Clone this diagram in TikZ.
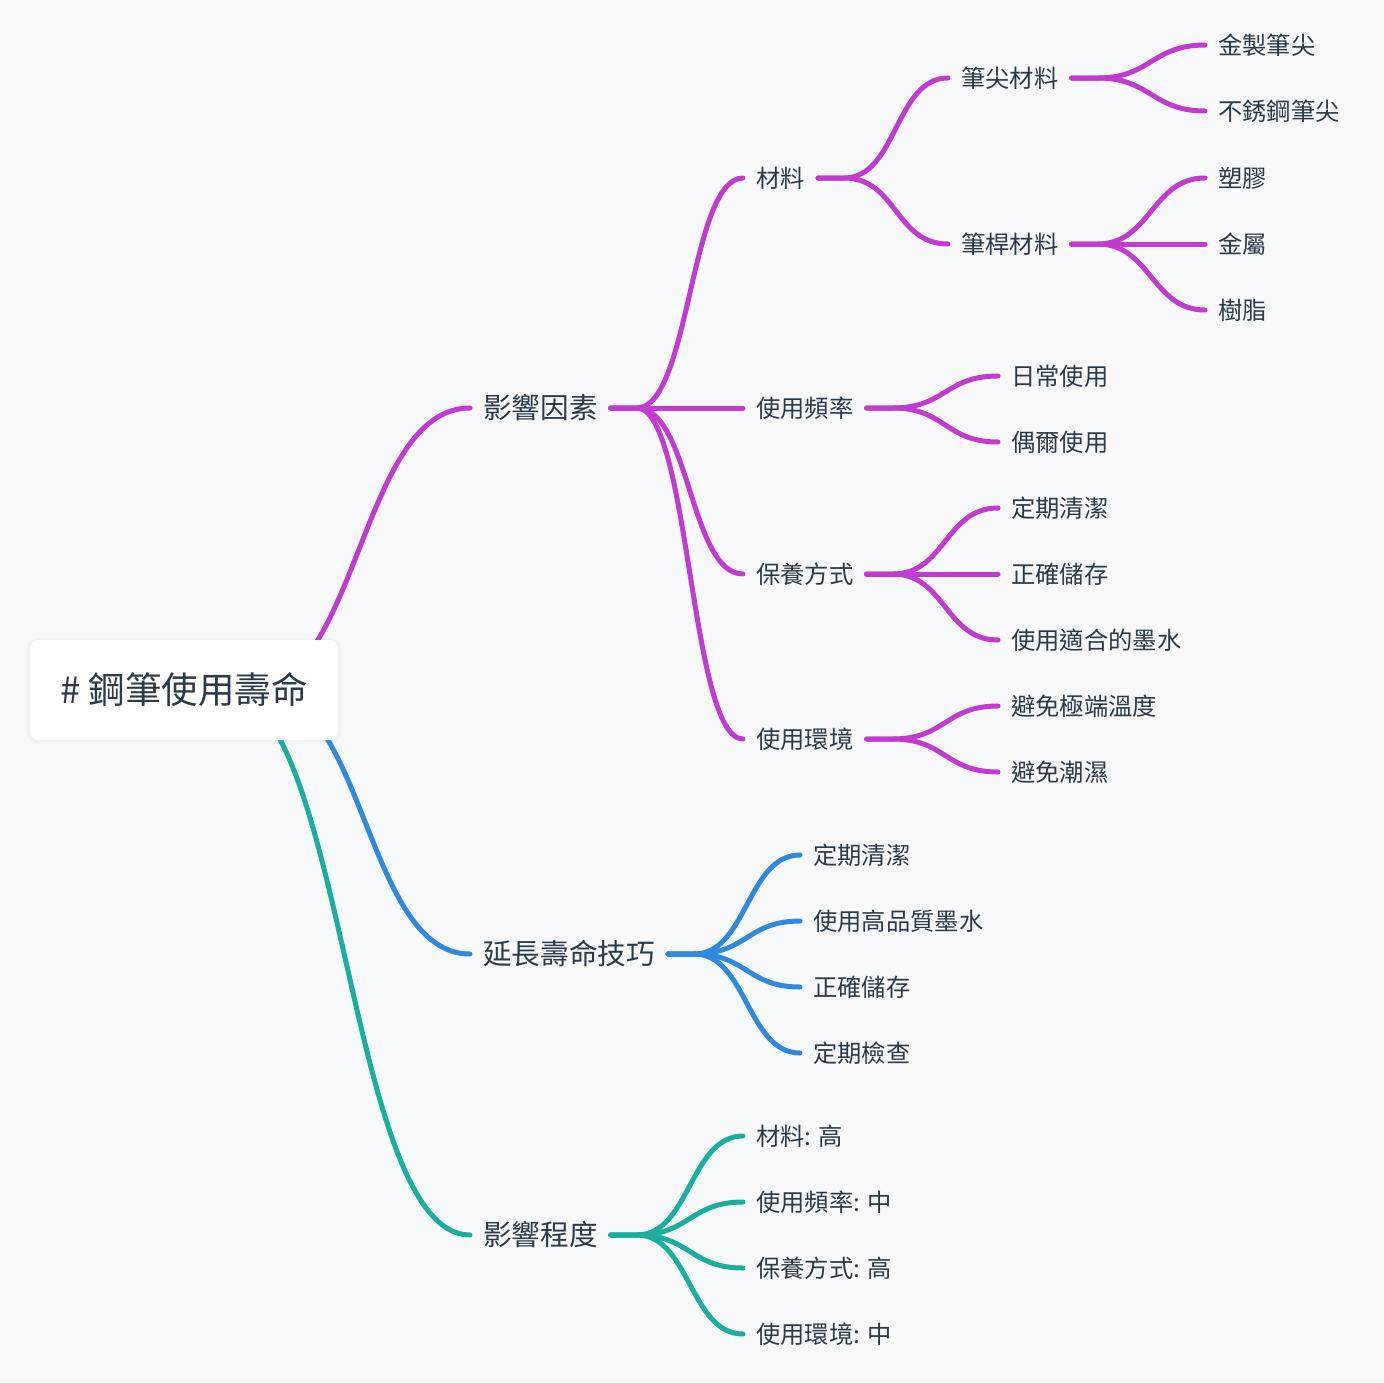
\documentclass[tikz,border=0pt]{standalone}
\usepackage{fontspec}
\setmainfont{Noto Sans CJK TC}
\usepackage{tikz}
\usetikzlibrary{calc}
\definecolor{paper}{HTML}{F7F9FB}
\definecolor{ink}{HTML}{2C3A47}
\definecolor{pur}{HTML}{C13BD1}
\definecolor{blu}{HTML}{2F89DC}
\definecolor{tea}{HTML}{1AAE9F}
\pgfdeclarelayer{back}
\pgfsetlayers{back,main}

\begin{document}
\begin{tikzpicture}[x=1pt, y=-1pt,
    lbl/.style={anchor=west, inner xsep=13pt, inner ysep=0pt, text=ink,
        font=\fontsize{24.3}{24.3}\selectfont, text height=18.4pt, text depth=0pt},
    big/.style={lbl, font=\fontsize{28.6}{28.6}\selectfont, text height=21.7pt},
    link/.style={line width=5pt, line cap=round},
    branch/.style={link, to path={-- ++(26,0) .. controls +(53,0) and +(-53,0) .. (\tikztotarget)}},
    stem/.style={link, to path={.. controls +(#1,0) and +(-#1,0) .. (\tikztotarget)}}]

    % Background and frame
    \useasboundingbox (0,0) rectangle (1384,1382);

    % Root
    \node[fill=white, rounded corners=8pt, minimum width=308pt, minimum height=100pt,
        inner sep=0pt, text=ink, font=\fontsize{36.5}{36.5}\selectfont, text height=27.7pt, text depth=0pt]
        (root) at (184,690) {\# 鋼筆使用壽命};
    \coordinate (hubp) at ($(root.east)+(-90,0)$);
    \coordinate (hubb) at ($(root.east)+(-78,0)$);
    \coordinate (hubt) at ($(root.east)+(-116,0)$);

    % Influencing factors
    \node[big] (yx) at (470,408) {影響因素};
    \node[lbl] (cl) at (743,178) {材料};
    \node[lbl] (pl) at (743,408) {使用頻率};
    \node[lbl] (by) at (743,574) {保養方式};
    \node[lbl] (hj) at (743,739) {使用環境};
    \node[lbl] (bj) at (948,78) {筆尖材料};
    \node[lbl] (bgan) at (948,244) {筆桿材料};
    \node[lbl] (jz) at (1205,45) {金製筆尖};
    \node[lbl] (bx) at (1205,111) {不銹鋼筆尖};
    \node[lbl] (sj) at (1205,178) {塑膠};
    \node[lbl] (js) at (1205,244) {金屬};
    \node[lbl] (sz) at (1205,310) {樹脂};
    \node[lbl] (rc) at (998,376) {日常使用};
    \node[lbl] (oe) at (998,442) {偶爾使用};
    \node[lbl] (qj) at (998,508) {定期清潔};
    \node[lbl] (cc) at (998,574) {正確儲存};
    \node[lbl] (ms) at (998,640) {使用適合的墨水};
    \node[lbl] (wd) at (998,706) {避免極端溫度};
    \node[lbl] (cs) at (998,772) {避免潮濕};

    % Tips
    \node[big] (yc) at (470,954) {延長壽命技巧};
    \node[lbl] (tq) at (800,855) {定期清潔};
    \node[lbl] (gp) at (800,921) {使用高品質墨水};
    \node[lbl] (zc) at (800,987) {正確儲存};
    \node[lbl] (jc) at (800,1053) {定期檢查};

    % Degree
    \node[big] (cd) at (470,1235) {影響程度};
    \node[lbl] (c1) at (743,1136) {材料: 高};
    \node[lbl] (c2) at (743,1202) {使用頻率: 中};
    \node[lbl] (c3) at (743,1268) {保養方式: 高};
    \node[lbl] (c4) at (743,1334) {使用環境: 中};

    \begin{pgfonlayer}{back}
        \fill[paper] (0,0) rectangle (1384,1382);
        % soft shadow of the root box
        \fill[black, opacity=0.015, rounded corners=11pt]
            ($(root.north west)+(-3,-2)$) rectangle ($(root.south east)+(3,4)$);
        \fill[black, opacity=0.02, rounded corners=9pt]
            ($(root.north west)+(-1.5,-1)$) rectangle ($(root.south east)+(1.5,2)$);
        % Branches
        \draw[stem=111, pur] (hubp) to (yx.west);
        \draw[stem=105, blu] (hubb) to (yc.west);
        \draw[stem=124, tea] (hubt) to (cd.west);
        \foreach \p/\c in {yx/cl, yx/pl, yx/by, yx/hj, cl/bj, cl/bgan, bj/jz, bj/bx,
            bgan/sj, bgan/js, bgan/sz, pl/rc, pl/oe, by/qj, by/cc, by/ms, hj/wd, hj/cs}
            \draw[branch, pur] (\p.east) to (\c.west);
        \foreach \c in {tq, gp, zc, jc}
            \draw[branch, blu] (yc.east) to (\c.west);
        \foreach \c in {c1, c2, c3, c4}
            \draw[branch, tea] (cd.east) to (\c.west);
    \end{pgfonlayer}

\end{tikzpicture}
\end{document}
